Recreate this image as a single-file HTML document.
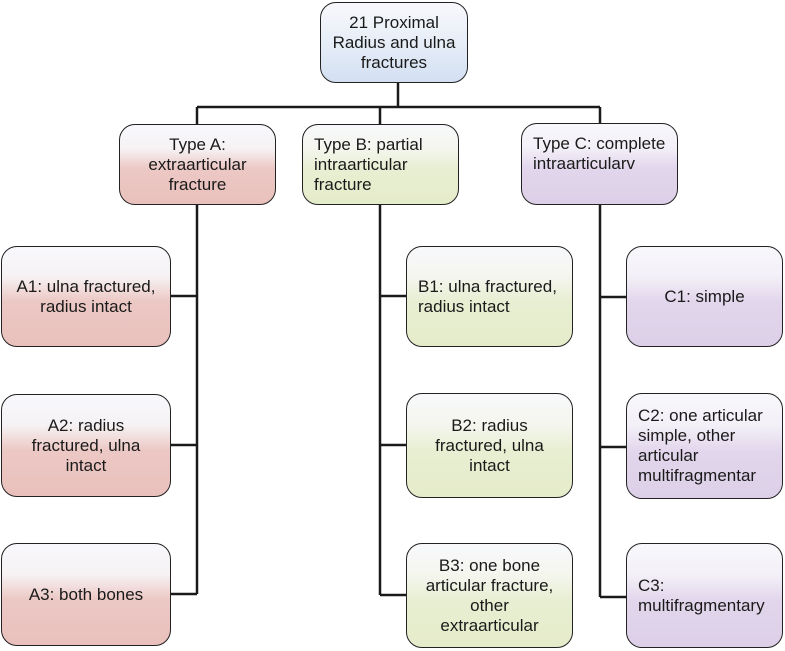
<!DOCTYPE html>
<html><head><meta charset="utf-8"><style>
body{margin:0;width:785px;height:651px;background:#fff;position:relative;overflow:hidden;font-family:"Liberation Sans",sans-serif;}
.b{position:absolute;box-sizing:border-box;border:1.5px solid #222;border-radius:16px;display:flex;align-items:center;font-size:17px;line-height:20px;color:#1a1a1a;padding:0 8px;white-space:nowrap;}
.c{justify-content:center;text-align:center;}
.l{justify-content:flex-start;text-align:left;padding-left:11px;}
.r{background:linear-gradient(#f8f8fc 0%,#f6f2f4 30%,#ecc8c4 55%,#e9c0bc 100%);}
.g{background:linear-gradient(#f8f8fc 0%,#f4f6ee 30%,#e8eed2 55%,#e5ecca 100%);}
.p{background:linear-gradient(#f8f8fc 0%,#f3f0f7 30%,#e2d6ec 55%,#dccfe7 100%);}
.u{background:linear-gradient(#f8f8fc 0%,#eaf0f8 40%,#d3e0f2 100%);}
</style></head><body>
<svg width="785" height="651" style="position:absolute;left:0;top:0">
<g stroke="#1a1a1a" stroke-width="2.5" fill="none">
<line x1="398" y1="83" x2="398" y2="107"/>
<line x1="197" y1="107" x2="600" y2="107"/>
<line x1="197" y1="107" x2="197" y2="124"/>
<line x1="380" y1="107" x2="380" y2="124"/>
<line x1="600" y1="107" x2="600" y2="124"/>
<line x1="197" y1="205" x2="197" y2="594"/>
<line x1="171" y1="296" x2="197" y2="296"/>
<line x1="171" y1="445" x2="197" y2="445"/>
<line x1="171" y1="594" x2="197" y2="594"/>
<line x1="380" y1="205" x2="380" y2="595"/>
<line x1="380" y1="296" x2="406" y2="296"/>
<line x1="380" y1="445" x2="406" y2="445"/>
<line x1="380" y1="595" x2="406" y2="595"/>
<line x1="600" y1="205" x2="600" y2="597"/>
<line x1="600" y1="297" x2="626" y2="297"/>
<line x1="600" y1="447" x2="626" y2="447"/>
<line x1="600" y1="597" x2="626" y2="597"/>
</g></svg>
<div class="b c u" style="left:320px;top:2px;width:148px;height:81px">21 Proximal<br>Radius and ulna<br>fractures</div>
<div class="b c r" style="left:119px;top:124px;width:157px;height:81px">Type A:<br>extraarticular<br>fracture</div>
<div class="b l g" style="left:302px;top:124px;width:157px;height:81px;align-items:flex-start;padding-top:10px">Type B: partial<br>intraarticular<br>fracture</div>
<div class="b l p" style="left:521px;top:123px;width:157px;height:82px;align-items:flex-start;padding-top:10px">Type C: complete<br>intraarticularv</div>
<div class="b c r" style="left:1px;top:246px;width:170px;height:101px">A1: ulna fractured,<br>radius intact</div>
<div class="b c r" style="left:1px;top:394px;width:170px;height:103px">A2: radius<br>fractured, ulna<br>intact</div>
<div class="b c r" style="left:1px;top:543px;width:170px;height:103px">A3: both bones</div>
<div class="b l g" style="left:406px;top:246px;width:167px;height:101px">B1: ulna fractured,<br>radius intact</div>
<div class="b c g" style="left:406px;top:393px;width:167px;height:105px">B2: radius<br>fractured, ulna<br>intact</div>
<div class="b c g" style="left:406px;top:543px;width:167px;height:105px">B3: one bone<br>articular fracture,<br>other<br>extraarticular</div>
<div class="b c p" style="left:626px;top:246px;width:157px;height:101px">C1: simple</div>
<div class="b l p" style="left:626px;top:393px;width:157px;height:106px">C2: one articular<br>simple, other<br>articular<br>multifragmentar</div>
<div class="b l p" style="left:626px;top:543px;width:157px;height:105px">C3:<br>multifragmentary</div>
</body></html>
